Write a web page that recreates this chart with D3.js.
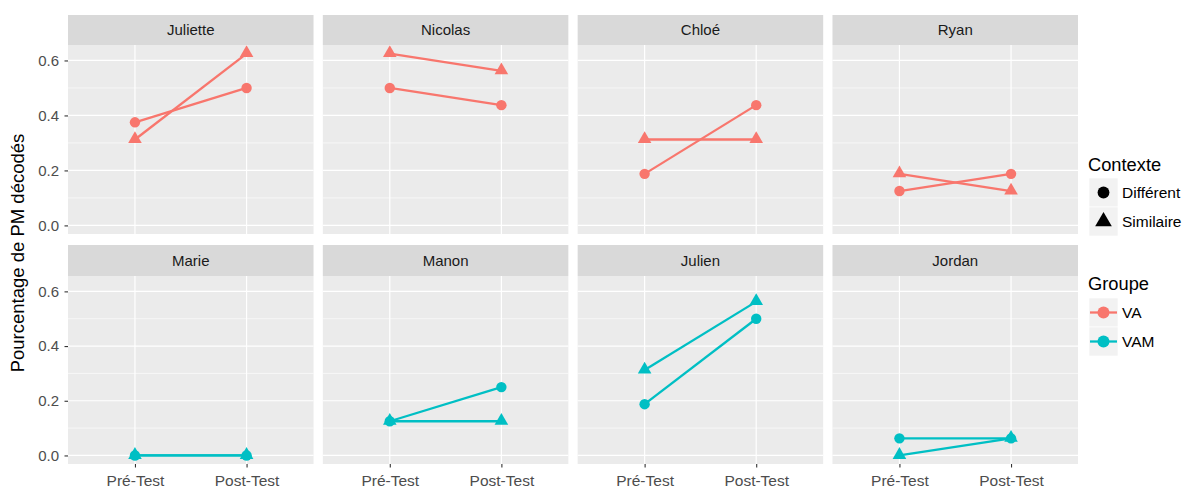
<!DOCTYPE html>
<html><head><meta charset="utf-8">
<script src="https://cdn.jsdelivr.net/npm/d3@7"></script>
<style>body{margin:0;background:#fff;font-family:"Liberation Sans",Arial,sans-serif;}</style>
</head><body>
<svg id="chart" width="1185" height="490"></svg>
<script>
const students = ["Juliette","Nicolas","Chloé","Ryan","Marie","Manon","Julien","Jordan"];
const groups = ["VA","VA","VA","VA","VAM","VAM","VAM","VAM"];
const phases = ["Pré-Test","Post-Test"];
const contexts = ["Différent","Similaire"];
// values per student: [pre, post]
const differentVals = [[0.375,0.5],[0.5,0.4375],[0.1875,0.4375],[0.125,0.1875],[0,0],[0.125,0.25],[0.1875,0.5],[0.0625,0.0625]];
const similaireVals = [[0.3125,0.625],[0.625,0.5625],[0.3125,0.3125],[0.1875,0.125],[0,0],[0.125,0.125],[0.3125,0.5625],[0,0.0625]];
const yTicks = [0,0.2,0.4,0.6];
const yMinor = [0.1,0.3,0.5];
const groupNames = ["VA","VAM"];
const groupColors = ["#F8766D","#00BFC4"];

const FONT = "Liberation Sans, Arial, sans-serif";
const svg = d3.select("#chart");
const color = d3.scaleOrdinal().domain(groupNames).range(groupColors);
const shape = d3.scaleOrdinal().domain(contexts).range([d3.symbolCircle,d3.symbolTriangle]);
const shapeSize = {"Différent":85,"Similaire":80};

const left=68, right=1078, gap=9.3;
const pw=(right-left-3*gap)/4;
const rows=[{stripTop:15,plotTop:45,plotBottom:234},{stripTop:245,plotTop:276,plotBottom:464}];
const ymax=0.625, pad=ymax*0.05;

students.forEach((name,i)=>{
  const r=Math.floor(i/4), c=i%4;
  const R=rows[r];
  const x0=left+c*(pw+gap);
  const x=d3.scalePoint().domain(phases).range([x0,x0+pw]).padding(0.6);
  const y=d3.scaleLinear().domain([-pad,ymax+pad]).range([R.plotBottom,R.plotTop]);
  const g=svg.append("g");
  // strip
  g.append("rect").attr("x",x0).attr("y",R.stripTop).attr("width",pw).attr("height",R.plotTop-R.stripTop).attr("fill","#D9D9D9");
  g.append("text").attr("x",x0+pw/2).attr("y",(R.stripTop+R.plotTop)/2).attr("dy","0.36em").attr("text-anchor","middle")
    .attr("font-size",15).attr("fill","#1A1A1A").text(name);
  // panel
  g.append("rect").attr("x",x0).attr("y",R.plotTop).attr("width",pw).attr("height",R.plotBottom-R.plotTop).attr("fill","#EBEBEB");
  yMinor.forEach(v=>g.append("line").attr("x1",x0).attr("x2",x0+pw).attr("y1",y(v)).attr("y2",y(v)).attr("stroke","#fff").attr("stroke-width",0.6));
  yTicks.forEach(v=>g.append("line").attr("x1",x0).attr("x2",x0+pw).attr("y1",y(v)).attr("y2",y(v)).attr("stroke","#fff").attr("stroke-width",1.2));
  phases.forEach(p=>g.append("line").attr("x1",x(p)).attr("x2",x(p)).attr("y1",R.plotTop).attr("y2",R.plotBottom).attr("stroke","#fff").attr("stroke-width",1.2));
  // axes
  if(c===0){
    const ax=g.append("g").attr("transform",`translate(${x0},0)`).call(d3.axisLeft(y).tickValues(yTicks).tickFormat(d3.format(".1f")).tickSize(3.5).tickPadding(5.5));
    ax.select(".domain").remove();
    ax.selectAll("line").attr("stroke","#333").attr("stroke-width",1.1);
    ax.selectAll("text").attr("fill","#4D4D4D").attr("font-size",15).attr("font-family",FONT);
  }
  if(r===1){
    const ax=g.append("g").attr("transform",`translate(0,${R.plotBottom})`).call(d3.axisBottom(x).tickSize(3.5).tickPadding(7));
    ax.select(".domain").remove();
    ax.selectAll("line").attr("stroke","#333").attr("stroke-width",1.1);
    ax.selectAll("text").attr("fill","#4D4D4D").attr("font-size",15.5).attr("font-family",FONT);
  }
  const col=color(groups[i]);
  const series=[{ctx:"Différent",vals:differentVals[i]},{ctx:"Similaire",vals:similaireVals[i]}];
  const line=d3.line().x((d,j)=>x(phases[j])).y(d=>y(d));
  series.forEach(s=>{
    g.append("path").attr("d",line(s.vals)).attr("fill","none").attr("stroke",col).attr("stroke-width",2.3);
  });
  series.forEach(s=>{
    s.vals.forEach((v,j)=>{
      g.append("path").attr("d",d3.symbol().type(shape(s.ctx)).size(shapeSize[s.ctx])())
        .attr("transform",`translate(${x(phases[j])},${y(v)+(s.ctx==="Similaire"?-0.5:0)})`).attr("fill",col);
    });
  });
});

// y title
svg.append("text").attr("transform","translate(24,253) rotate(-90)").attr("text-anchor","middle")
  .attr("font-size",18.5).attr("fill","#000").text("Pourcentage de PM décodés");

// legends
const lx=1089, kw=29, kh=29;
svg.append("text").attr("x",lx-1).attr("y",171).attr("font-size",18.3).attr("fill","#000").text("Contexte");
contexts.forEach((c,k)=>{
  const ky=178+k*kh;
  svg.append("rect").attr("x",lx).attr("y",ky).attr("width",kw).attr("height",kh).attr("fill","#F2F2F2").attr("stroke","#fff").attr("stroke-width",0.6);
  svg.append("path").attr("d",d3.symbol().type(shape(c)).size(c==="Similaire"?120:110)()).attr("transform",`translate(${lx+kw/2},${ky+kh/2})`).attr("fill","#000");
  svg.append("text").attr("x",lx+kw+4).attr("y",ky+kh/2).attr("dy","0.36em").attr("font-size",15.5).attr("fill","#000").text(c);
});
svg.append("text").attr("x",lx-1).attr("y",290).attr("font-size",18.3).attr("fill","#000").text("Groupe");
groupNames.forEach((gname,k)=>{
  const ky=298+k*kh;
  svg.append("rect").attr("x",lx).attr("y",ky).attr("width",kw).attr("height",kh).attr("fill","#F2F2F2").attr("stroke","#fff").attr("stroke-width",0.6);
  svg.append("line").attr("x1",lx+1).attr("x2",lx+kw-1).attr("y1",ky+kh/2).attr("y2",ky+kh/2).attr("stroke",color(gname)).attr("stroke-width",2.3);
  svg.append("circle").attr("cx",lx+kw/2).attr("cy",ky+kh/2).attr("r",6).attr("fill",color(gname));
  svg.append("text").attr("x",lx+kw+4).attr("y",ky+kh/2).attr("dy","0.36em").attr("font-size",15.5).attr("fill","#000").text(gname);
});
</script>
</body></html>
